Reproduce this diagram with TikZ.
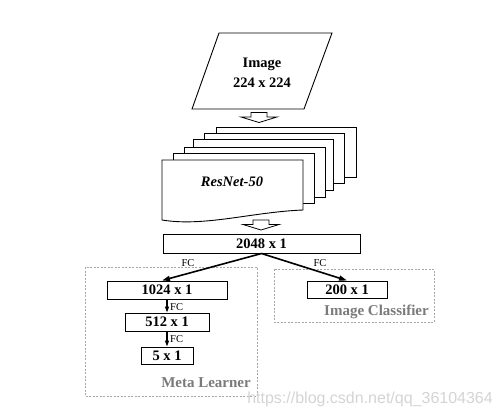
\documentclass[tikz,border=0pt]{standalone}
\usepackage{fontspec}
\setmainfont{Liberation Serif}
\newfontfamily\wmfont{Liberation Sans}
\usetikzlibrary{arrows.meta}
\tikzset{
  box/.style={draw=black, line width=1pt, fill=white, inner sep=0pt, font=\fontsize{14.5}{16}\selectfont\bfseries},
  sheet/.style={draw=black, line width=0.9pt, fill=white},
  group/.style={draw=black!35, dashed, dash pattern=on 2pt off 1.5pt, line width=0.6pt},
  grouplabel/.style={text=black!52, font=\fontsize{15}{17}\selectfont\bfseries, inner sep=0pt},
  fclabel/.style={font=\fontsize{10.5}{12}\selectfont, inner sep=0pt},
  fcmain/.style={line width=1.6pt, -{Triangle[length=8pt,width=5pt]}},
  fcsmall/.style={line width=1.2pt, -{Triangle[length=6pt,width=4pt]}},
  hollowdown/.pic={\draw[line width=0.8pt, fill=white] (-8,0) -- (8,0) -- (8,4.5) -- (18,4.5) -- (0,10) -- (-18,4.5) -- (-8,4.5) -- cycle;}
}
\begin{document}
\begin{tikzpicture}[x=1pt, y=-1pt]
\useasboundingbox (0,0) rectangle (501,418);
% input image parallelogram
\draw[sheet] (219,33) -- (332,33) -- (304,109) -- (192,109) -- cycle;
\node[align=center, font=\fontsize{14.5}{20}\selectfont\bfseries, inner sep=0pt] (img) at (262,73) {Image\\224 x 224};
\pic at (259,112.5) {hollowdown};
% ResNet stack
\draw[sheet] (216,127) rectangle (356,177);
\draw[sheet] (204,133) rectangle (344,183);
\draw[sheet] (193,139) rectangle (333,190);
\draw[sheet] (184,147) rectangle (325,197);
\draw[sheet] (173,153) rectangle (314,203);
\draw[sheet] (162,160) -- (303,160) -- (303,210) .. controls (252,212) and (205,227) .. (162,220) -- cycle;
\node[font=\fontsize{14.5}{16}\selectfont\bfseries\itshape, inner sep=0pt] (res) at (232,182) {ResNet-50};
\pic at (261,220) {hollowdown};
% feature vector
\node[box, minimum width=197pt, minimum height=19pt] (f2048) at (261.5,243.5) {2048 x 1};
% groups
\draw[group] (85,267) rectangle (257,396);
\draw[group] (274,269) rectangle (434,322);
\node[grouplabel, anchor=east] (ml) at (251,383) {Meta Learner};
\node[grouplabel, anchor=east] (ic) at (429,312) {Image Classifier};
% meta learner boxes
\node[box, minimum width=120pt, minimum height=18pt] (f1024) at (167,290) {1024 x 1};
\node[box, minimum width=84pt, minimum height=18pt] (f512) at (167,322) {512 x 1};
\node[box, minimum width=52pt, minimum height=17pt] (f5) at (167,355.5) {5 x 1};
% classifier box
\node[box, minimum width=80pt, minimum height=17pt] (f200) at (347,289.5) {200 x 1};
% connectors
\draw[fcmain] (f2048.south) -- ([xshift=-5pt]f1024.north);
\draw[fcmain] (f2048.south) -- (f200.north);
\draw[fcsmall] (f1024.south) -- (f512.north);
\draw[fcsmall] (f512.south) -- (f5.north);
\node[fclabel] (fc1) at (188,263) {FC};
\node[fclabel] (fc2) at (320,263) {FC};
\node[fclabel, anchor=west] (fc3) at (170,307) {FC};
\node[fclabel, anchor=west] (fc4) at (170,339) {FC};
% watermark
\node[font=\wmfont\fontsize{16}{18}\selectfont, text=black!17, anchor=east, inner sep=0pt] (wm) at (493,399) {https://blog.csdn.net/qq\_36104364};
\end{tikzpicture}
\end{document}
